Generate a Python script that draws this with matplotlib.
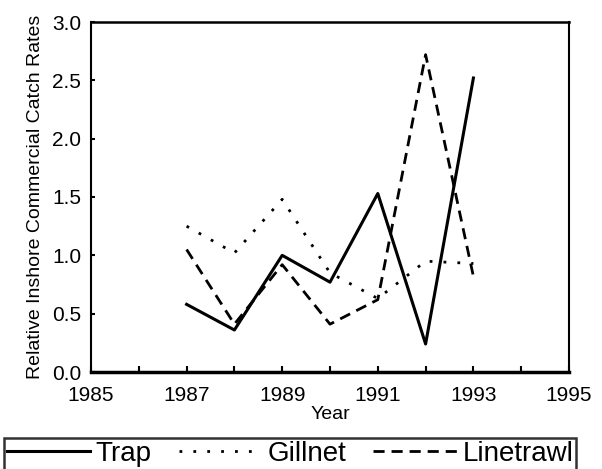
import matplotlib
matplotlib.use("Agg")
import matplotlib.pyplot as plt
from matplotlib.ticker import MultipleLocator, FormatStrFormatter

plt.rcParams['font.family'] = ['Liberation Sans', 'DejaVu Sans']

# data
years = [1987, 1988, 1989, 1990, 1991, 1992, 1993]
trap = [0.58, 0.36, 1.00, 0.77, 1.53, 0.24, 2.52]
gillnet = [1.25, 1.02, 1.48, 0.85, 0.63, 0.95, 0.93]
linetrawl = [1.05, 0.41, 0.92, 0.41, 0.62, 2.72, 0.82]
year_ticks = [1985, 1987, 1989, 1991, 1993, 1995]

fig = plt.figure(figsize=(6.02, 4.69), dpi=100)
ax = fig.add_axes([91 / 602, 1 - 372 / 469, 478 / 602, 350 / 469])

ax.plot(years, trap, color='black', lw=2.2, linestyle='-', label='Trap')
ax.plot(years, gillnet, color='black', lw=2.0, linestyle=(0, (1, 4)), label='Gillnet')
ax.plot(years, linetrawl, color='black', lw=2.0, linestyle=(0, (4, 2.5)), label='Linetrawl')

ax.set_xlim(1985, 1995)
ax.set_ylim(0, 3.0)
ax.set_xticks(year_ticks)
ax.xaxis.set_minor_locator(MultipleLocator(1))
ax.yaxis.set_major_locator(MultipleLocator(0.5))
ax.yaxis.set_major_formatter(FormatStrFormatter('%.1f'))

ax.tick_params(axis='both', which='both', direction='in', labelsize=15, width=1.5)
ax.tick_params(axis='x', which='both', length=4, pad=10)
ax.tick_params(axis='y', which='major', length=3, pad=7)

ax.spines['bottom'].set_linewidth(2.5)
ax.spines['top'].set_linewidth(1.8)
ax.spines['left'].set_linewidth(1.5)
ax.spines['right'].set_linewidth(1.5)

ax.set_xlabel('Year', fontsize=14, labelpad=1)
ax.set_ylabel('Relative Inshore Commercial Catch Rates', fontsize=14, labelpad=6)

leg = fig.legend(loc='upper left', bbox_to_anchor=(4 / 602, 0, 572 / 602, 1 - 438 / 469),
                 mode='expand', ncol=3, fontsize=20, frameon=True, fancybox=False,
                 edgecolor='black', handlelength=3.0, handletextpad=0.2,
                 borderaxespad=0, borderpad=0.1, columnspacing=0.8)
leg.get_frame().set_linewidth(1.8)

fig.savefig('out.png', dpi=100)
